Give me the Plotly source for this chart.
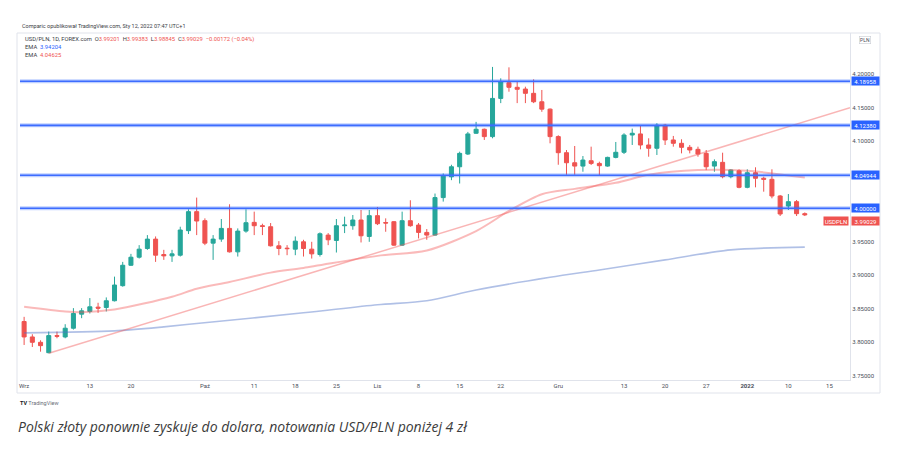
import plotly.graph_objects as go

# ---------------- data ----------------
opens = [3.831, 3.808, 3.800, 3.7845, 3.810, 3.808, 3.821, 3.842, 3.846, 3.8525,
         3.852, 3.862, 3.8845, 3.915, 3.927, 3.940, 3.954, 3.931, 3.929, 3.930,
         3.9666, 3.995, 3.9815, 3.948, 3.954, 3.970, 3.935, 3.966, 3.979, 3.974,
         3.9725, 3.944, 3.9405, 3.939, 3.950, 3.939, 3.931, 3.960, 3.952, 3.974,
         3.974, 3.9825, 3.958, 3.989, 3.9787, 3.980, 3.945, 3.9815, 3.975, 3.964,
         3.960, 4.016, 4.047, 4.062, 4.081, 4.112, 4.118, 4.107, 4.164, 4.1875,
         4.1806, 4.178, 4.1716, 4.159, 4.148, 4.107, 4.083, 4.068, 4.063, 4.071,
         4.067, 4.063, 4.076, 4.0836, 4.1094, 4.111, 4.0945, 4.0896, 4.124, 4.102,
         4.097, 4.091, 4.088, 4.082, 4.063, 4.0686, 4.0472, 4.0561, 4.0313, 4.0531,
         4.0448, 4.0433, 4.0184, 4.0034, 4.0099, 3.99201]
highs = [3.838, 3.812, 3.803, 3.816, 3.816, 3.827, 3.851, 3.851, 3.866, 3.859,
         3.867, 3.898, 3.920, 3.932, 3.945, 3.960, 3.958, 3.938, 3.938, 3.9725,
         3.9985, 4.016, 3.985, 3.960, 3.984, 4.006, 3.970, 3.9985, 3.995, 3.977,
         3.978, 3.951, 3.945, 3.958, 3.953, 3.950, 3.964, 3.963, 3.984, 3.9875,
         3.990, 3.9975, 3.9975, 4.002, 3.985, 3.981, 3.995, 4.012, 3.978, 3.969,
         4.022, 4.052, 4.065, 4.0845, 4.114, 4.129, 4.119, 4.211, 4.194, 4.2104,
         4.189, 4.1815, 4.1925, 4.1766, 4.149, 4.109, 4.087, 4.093, 4.078, 4.092,
         4.0696, 4.077, 4.099, 4.112, 4.119, 4.124, 4.1045, 4.127, 4.126, 4.108,
         4.103, 4.0945, 4.092, 4.087, 4.073, 4.083, 4.0582, 4.0582, 4.0582, 4.0612,
         4.0472, 4.0582, 4.0199, 4.0213, 4.0124, 3.99383]
lows = [3.796, 3.793, 3.786, 3.7836, 3.806, 3.806, 3.819, 3.836, 3.843, 3.844,
        3.846, 3.861, 3.883, 3.914, 3.925, 3.938, 3.920, 3.923, 3.920, 3.928,
        3.9616, 3.960, 3.945, 3.923, 3.950, 3.934, 3.928, 3.9636, 3.960, 3.960,
        3.943, 3.930, 3.930, 3.930, 3.928, 3.925, 3.928, 3.945, 3.934, 3.963,
        3.968, 3.949, 3.950, 3.975, 3.965, 3.944, 3.944, 3.9725, 3.955, 3.953,
        3.959, 4.010, 4.042, 4.037, 4.0796, 4.111, 4.102, 4.1045, 4.157, 4.174,
        4.157, 4.157, 4.157, 4.144, 4.097, 4.065, 4.050, 4.050, 4.0546, 4.0646,
        4.0497, 4.062, 4.0746, 4.081, 4.0945, 4.088, 4.077, 4.0796, 4.0945, 4.092,
        4.082, 4.082, 4.077, 4.057, 4.0546, 4.0448, 4.0448, 4.0299, 4.0299, 4.0313,
        4.0248, 4.0149, 3.9885, 3.9975, 3.9885, 3.98845]
closes = [3.808, 3.800, 3.795, 3.810, 3.809, 3.821, 3.843, 3.847, 3.853, 3.851,
          3.862, 3.8855, 3.915, 3.927, 3.939, 3.954, 3.930, 3.929, 3.932, 3.9676,
          3.995, 3.981, 3.948, 3.954, 3.970, 3.935, 3.966, 3.9785, 3.974, 3.973,
          3.944, 3.940, 3.9398, 3.951, 3.940, 3.932, 3.962, 3.953, 3.974, 3.975,
          3.9825, 3.959, 3.989, 3.977, 3.978, 3.945, 3.9815, 3.974, 3.964, 3.960,
          4.016, 4.048, 4.062, 4.082, 4.111, 4.118, 4.107, 4.164, 4.189, 4.1806,
          4.1776, 4.1716, 4.159, 4.148, 4.107, 4.083, 4.068, 4.063, 4.072, 4.067,
          4.0636, 4.076, 4.0836, 4.1094, 4.112, 4.0945, 4.0896, 4.124, 4.102, 4.097,
          4.091, 4.087, 4.081, 4.062, 4.0696, 4.0472, 4.0572, 4.0313, 4.0531, 4.0448,
          4.0433, 4.0184, 3.9915, 4.0099, 3.9920, 3.99029]

# EMA curves, read at selected bars
ema_fast_bars = [0, 5, 7, 11, 18, 21, 25, 30, 34, 43, 49, 55, 59, 63, 67, 72, 76, 82, 88, 95]
ema_fast_vals = [3.853, 3.846, 3.845, 3.849, 3.868, 3.880, 3.890, 3.904, 3.911, 3.929,
                 3.937, 3.966, 3.996, 4.021, 4.029, 4.038, 4.050, 4.057, 4.056, 4.046]
ema_slow_bars = [0, 11, 17, 21, 34, 43, 49, 55, 64, 70, 78, 86, 95]
ema_slow_vals = [3.814, 3.817, 3.823, 3.828, 3.844, 3.856, 3.862, 3.878, 3.897, 3.908,
                 3.923, 3.938, 3.942]

# drawn trend ray (anchor bars / prices)
trend_bars = [3, 100.5]
trend_vals = [3.7836, 4.150]

# horizontal levels
levels = [4.18958, 4.12380, 4.04944, 4.00000]

# axis ticks (4.25, 4.05 and 4.00 are hidden behind labels in the reference)
x_tick_bars = [0, 8, 13, 22, 28, 33, 38, 43, 48, 53, 58, 65, 73, 78, 83, 88, 93, 98]
x_tick_text = ['Wrz', '13', '20', 'Paź', '11', '18', '25', 'Lis', '8', '15', '22', 'Gru',
               '13', '20', '27', '<b>2022</b>', '10', '15']
y_ticks = [3.75, 3.80, 3.85, 3.90, 3.95, 4.10, 4.15, 4.20]

last_price = closes[-1]
ema_slow_last = 3.94204
ema_fast_last = 4.04625

# ---------------- figure ----------------
W, H = 902, 458
X0, X1 = 20, 850        # plot pixel extents
Y0, Y1 = 33, 380

def px(x):
    return x / W

def py(y):
    return 1 - y / H

GREEN = '#26a69a'
RED = '#ef5350'
BLUE = '#2962ff'
TXT = '#4a4e59'

bars = list(range(len(opens)))
fig = go.Figure()

fig.add_trace(go.Scatter(x=ema_slow_bars, y=ema_slow_vals, mode='lines',
                         line=dict(color='rgba(80,115,200,0.45)', width=1.6, shape='spline', smoothing=0.8),
                         hoverinfo='skip', showlegend=False))
fig.add_trace(go.Scatter(x=ema_fast_bars, y=ema_fast_vals, mode='lines',
                         line=dict(color='rgba(242,90,90,0.42)', width=2, shape='spline', smoothing=0.8),
                         hoverinfo='skip', showlegend=False))
fig.add_trace(go.Scatter(x=trend_bars, y=trend_vals, mode='lines',
                         line=dict(color='rgba(242,90,90,0.45)', width=1.5),
                         hoverinfo='skip', showlegend=False))

for lv in levels:
    fig.add_shape(type='line', xref='x domain', yref='y', x0=0, x1=1, y0=lv, y1=lv,
                  line=dict(color='rgba(41,98,255,0.30)', width=4), layer='above')
    fig.add_shape(type='line', xref='x domain', yref='y', x0=0, x1=1, y0=lv, y1=lv,
                  line=dict(color='#3d6cff', width=1.6), layer='above')

fig.add_trace(go.Candlestick(x=bars, open=opens, high=highs, low=lows, close=closes,
                             increasing=dict(line=dict(color=GREEN, width=1), fillcolor=GREEN),
                             decreasing=dict(line=dict(color=RED, width=1), fillcolor=RED),
                             whiskerwidth=0, hoverinfo='skip', showlegend=False))

fig.update_layout(
    width=W, height=H, margin=dict(l=0, r=0, t=0, b=0),
    paper_bgcolor='white', plot_bgcolor='white', showlegend=False,
    font=dict(family='Roboto, Liberation Sans, sans-serif', color=TXT, size=6),
    xaxis=dict(domain=[px(X0), px(X1)], range=[-0.5, 100.5], showgrid=False, zeroline=False,
               rangeslider=dict(visible=False), tickmode='array', tickvals=x_tick_bars,
               ticktext=x_tick_text, ticks='', tickfont=dict(size=6, color=TXT),
               showline=True, linecolor='#e0e3eb', linewidth=1, fixedrange=True),
    yaxis=dict(domain=[py(Y1), py(Y0)], range=[4.20 - (Y1 - 74.3) / 670, 4.20 + (74.3 - Y0) / 670],
               side='right', showgrid=False, zeroline=False, tickmode='array', tickvals=y_ticks,
               ticktext=['%.5f' % v for v in y_ticks], ticks='', tickfont=dict(size=6, color=TXT),
               showline=True, linecolor='#e0e3eb', linewidth=1, mirror=False, fixedrange=True),
)

# chart frame
fig.add_shape(type='rect', xref='paper', yref='paper', x0=px(17), x1=px(880), y0=py(393), y1=py(33),
              line=dict(color='#e0e3eb', width=1), layer='below')

# price-scale labels
for lv in levels:
    fig.add_annotation(xref='paper', yref='y', x=px(X1 + 0.5), y=lv, xanchor='left', yanchor='middle',
                       text='%.5f' % lv, showarrow=False, bgcolor=BLUE, borderpad=0.5, width=26, height=7,
                       font=dict(size=6, color='white'))
fig.add_annotation(xref='paper', yref='y', x=px(X1 + 0.5), y=last_price, xanchor='left', yanchor='top',
                   yshift=-1, text='%.5f' % last_price, showarrow=False, bgcolor=RED, borderpad=0.5,
                   width=26, height=7, font=dict(size=6, color='white'))
fig.add_annotation(xref='paper', yref='y', x=px(X1 - 1), y=last_price, xanchor='right', yanchor='top',
                   yshift=-1, text='USDPLN', showarrow=False, bgcolor=RED, borderpad=0.5,
                   width=23, height=7, font=dict(size=6, color='white'))
fig.add_annotation(xref='paper', yref='paper', x=px(865), y=py(40.5), xanchor='center', yanchor='middle',
                   text='PLN', showarrow=False, bgcolor='white', bordercolor='#c8cbd3', borderwidth=0.6,
                   borderpad=0.5, font=dict(size=5, color=TXT))

# header texts
fig.add_annotation(xref='paper', yref='paper', x=px(20), y=py(26), xanchor='left', yanchor='middle',
                   text='Comparic opublikował TradingView.com, Sty 12, 2022 07:47 UTC+1', showarrow=False,
                   font=dict(size=5.5, color='#3a3d45'))
ohlc = ('USD/PLN, 1D, FOREX.com  O<span style="color:%s">%.5f</span>  H<span style="color:%s">%.5f</span>  '
        'L<span style="color:%s">%.5f</span>  C<span style="color:%s">%.5f</span>  '
        '<span style="color:%s">−0.00172 (−0.04%%)</span>') % (RED, opens[-1], RED, highs[-1], RED, lows[-1],
                                                            RED, closes[-1], RED)
fig.add_annotation(xref='paper', yref='paper', x=px(23), y=py(39.5), xanchor='left', yanchor='middle',
                   text=ohlc, showarrow=False, font=dict(size=5.8, color='#3a3d45'))
fig.add_annotation(xref='paper', yref='paper', x=px(23), y=py(47.3), xanchor='left', yanchor='middle',
                   text='EMA  <span style="color:#2962ff">%.5f</span>' % ema_slow_last, showarrow=False,
                   font=dict(size=5.8, color='#3a3d45'))
fig.add_annotation(xref='paper', yref='paper', x=px(23), y=py(55), xanchor='left', yanchor='middle',
                   text='EMA  <span style="color:%s">%.5f</span>' % (RED, ema_fast_last), showarrow=False,
                   font=dict(size=5.8, color='#3a3d45'))

# TradingView logo text
fig.add_annotation(xref='paper', yref='paper', x=px(18), y=py(403), xanchor='left', yanchor='middle',
                   text='<b>TV</b> <span style="color:#6a6d78">TradingView</span>', showarrow=False,
                   font=dict(size=5.5, color='#131722'))

# caption
fig.add_annotation(xref='paper', yref='paper', x=px(16), y=py(426), xanchor='left', yanchor='middle',
                   text='<i>Polski złoty ponownie zyskuje do dolara, notowania USD/PLN poniżej 4 zł</i>',
                   showarrow=False, font=dict(size=14, color='#3b3b3b', family='Open Sans, sans-serif'))

fig.write_html('out.html')
